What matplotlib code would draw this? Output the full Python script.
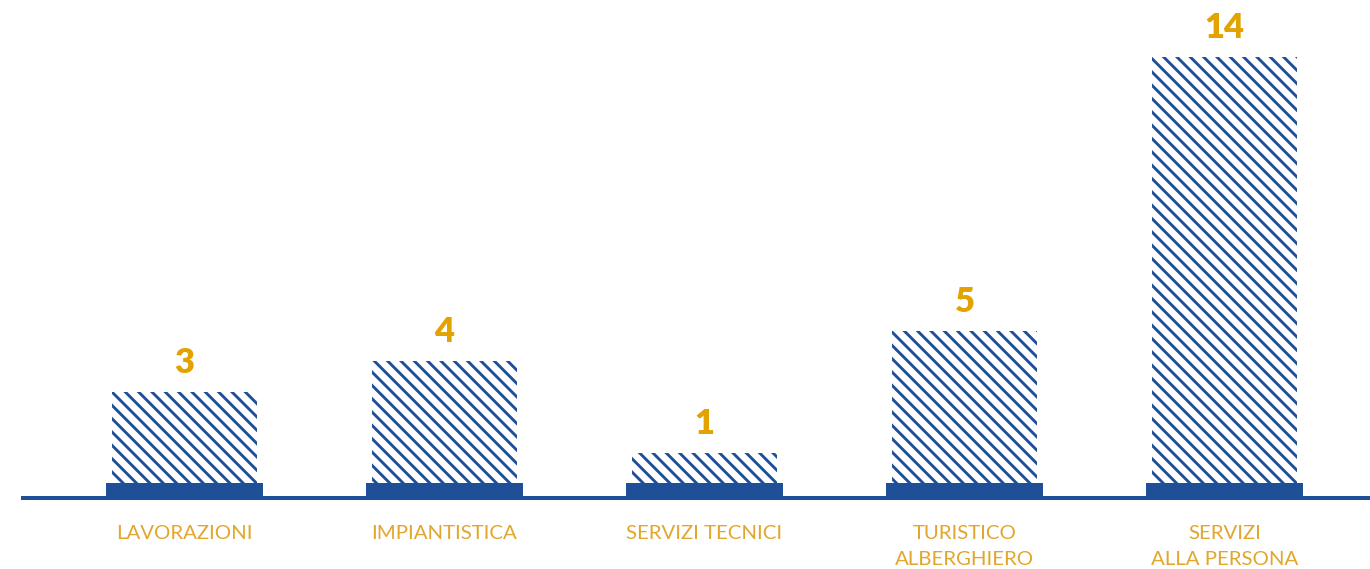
import matplotlib.pyplot as plt

categories = ['LAVORAZIONI', 'IMPIANTISTICA', 'SERVIZI TECNICI', 'TURISTICO\nALBERGHIERO', 'SERVIZI\nALLA PERSONA']
values = [3, 4, 1, 5, 14]

blue = '#1f5097'
gold = '#e2a200'
label_gold = '#e2a62c'

plt.rcParams['hatch.linewidth'] = 2.6
plt.rcParams['font.family'] = ['Lato', 'DejaVu Sans']

fig = plt.figure(figsize=(17.125, 7.1125), dpi=80)
ax = fig.add_axes([0, 0, 1, 1])

x = list(range(len(values)))
base_h = 0.5

ax.bar(x, values, width=0.558, color='white', edgecolor=blue, linewidth=0, hatch='\\\\', zorder=2)
ax.bar(x, base_h, bottom=-base_h, width=0.604, color=blue, linewidth=0, zorder=3)
ax.hlines(-base_h, -0.629, 4.6, color=blue, linewidth=3.6, zorder=3)

for xi, v in zip(x, values):
    ax.annotate(str(v), (xi, v), xytext=(0, 17), textcoords='offset points',
                ha='center', va='baseline', fontsize=31, fontweight='heavy', color=gold)

for xi, c in zip(x, categories):
    ax.text(xi, -1.38, c, ha='center', va='top', fontsize=18.4, color=label_gold,
            linespacing=1.62)

ax.set_xlim(-0.7096, 4.5596)
ax.set_ylim(-2.826, 15.873)
ax.axis('off')

fig.savefig('out.png', dpi=80)
